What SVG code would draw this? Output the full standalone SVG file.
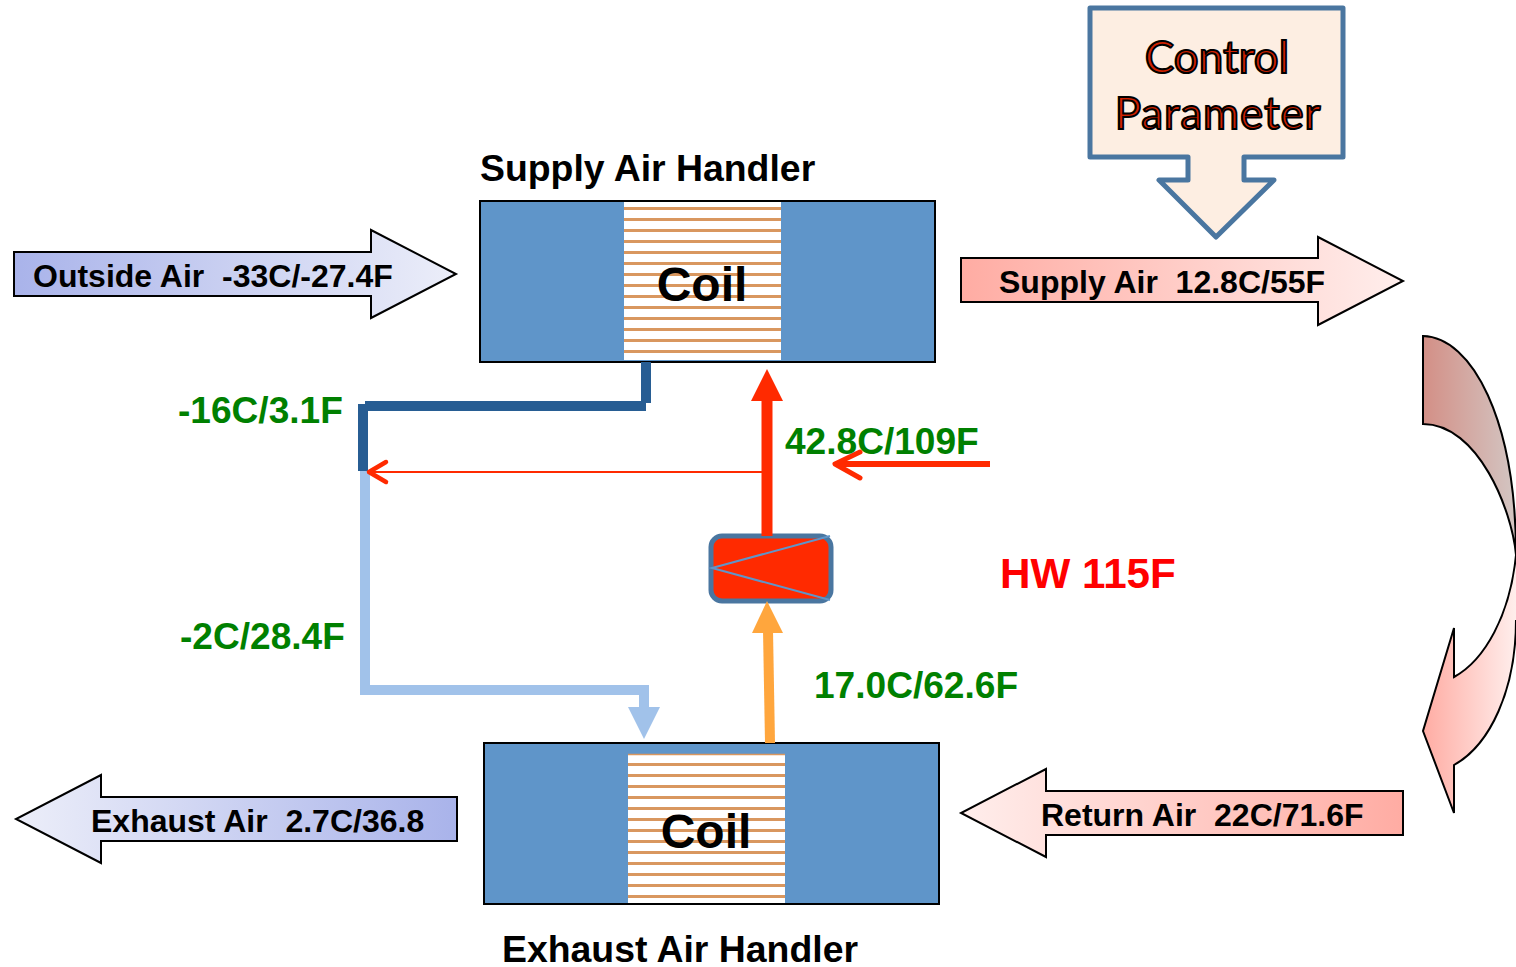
<svg xmlns="http://www.w3.org/2000/svg" width="1516" height="967" viewBox="0 0 1516 967">
<style>
text{font-family:"Liberation Sans",Arial,sans-serif;font-weight:bold;white-space:pre}
.grn{fill:#008000;font-size:37.100px}
.lbl{font-size:32px;fill:#000}
.hd{font-size:37.400px;fill:#000}
.coilt{font-size:48px;fill:#000}
.box{fill:#5f95c9;stroke:#000;stroke-width:2}
.fin{stroke:#d9975f;stroke-width:3}
.arr{stroke:#000;stroke-width:2}
.ctl{font-family:Lato,"Open Sans",sans-serif;font-weight:normal;font-size:44px;fill:#d02000;stroke:#000;stroke-width:2;text-anchor:middle}
</style>
<defs>
<linearGradient id="gB" x1="0" x2="1" y1="0" y2="0"><stop offset="0" stop-color="#a9b3ea"/><stop offset="1" stop-color="#eceef9"/></linearGradient>
<linearGradient id="gBr" x1="1" x2="0" y1="0" y2="0"><stop offset="0" stop-color="#a9b3ea"/><stop offset="1" stop-color="#eceef9"/></linearGradient>
<linearGradient id="gR" x1="0" x2="1" y1="0" y2="0"><stop offset="0" stop-color="#ffaca3"/><stop offset="1" stop-color="#ffeeec"/></linearGradient>
<linearGradient id="gRr" x1="1" x2="0" y1="0" y2="0"><stop offset="0" stop-color="#ffaca3"/><stop offset="1" stop-color="#ffeeec"/></linearGradient>
<linearGradient id="gC1" x1="0" x2="1" y1="0" y2="0"><stop offset="0" stop-color="#d38f86"/><stop offset="1" stop-color="#d3c6c3"/></linearGradient>
<linearGradient id="gC2" x1="0" x2="1" y1="0" y2="0"><stop offset="0" stop-color="#ffaca3"/><stop offset="1" stop-color="#ffeeec"/></linearGradient>
<path id="fins" class="fin" d="M0 0H157M0 11H157M0 22H157M0 33H157M0 44H157M0 55H157M0 66H157M0 77H157M0 88H157M0 99H157M0 110H157M0 121H157M0 132H157"/>
</defs>

<g id="supply-handler">
<rect class="box" x="480" y="201" width="455" height="161"/>
<rect x="624" y="202" width="157" height="158" fill="#fff"/>
<use href="#fins" x="624" y="208.500"/>
<path class="fin" d="M624 351.500H781"/>
<text class="coilt" x="702" y="301" text-anchor="middle">Coil</text>
<text class="hd" x="480" y="181">Supply Air Handler</text>
</g>

<g id="exhaust-handler">
<rect class="box" x="484" y="743" width="455" height="161"/>
<rect x="628" y="754" width="157" height="149" fill="#fff"/>
<path d="M628 754.500H785" stroke="#d9975f" stroke-width="1.500"/>
<use href="#fins" x="628" y="764.500"/>
<text class="coilt" x="706" y="848" text-anchor="middle">Coil</text>
<text class="hd" x="502" y="962">Exhaust Air Handler</text>
</g>

<g id="outside-air">
<path class="arr" fill="url(#gB)" d="M14 252H371V230L456 274L371 318V296H14Z"/>
<text class="lbl" x="33" y="287">Outside Air  -33C/-27.4F</text>
</g>
<g id="supply-air">
<path class="arr" fill="url(#gR)" d="M961 258H1318V237L1403 281L1318 325V302H961Z"/>
<text class="lbl" x="999" y="293">Supply Air  12.8C/55F</text>
</g>
<g id="return-air">
<path class="arr" fill="url(#gRr)" d="M1403 791H1046V769L961 813L1046 857V835H1403Z"/>
<text class="lbl" x="1041" y="826">Return Air  22C/71.6F</text>
</g>
<g id="exhaust-air">
<path class="arr" fill="url(#gBr)" d="M457 797H101V775L16 819L101 863V841H457Z"/>
<text class="lbl" x="91" y="832">Exhaust Air  2.7C/36.8</text>
</g>

<g id="control-parameter">
<path fill="#fdeee2" stroke="#4a76a0" stroke-width="5" stroke-linejoin="round" d="M1090 8H1343V157H1244V180H1274L1216 237L1159 180H1188V157H1090Z"/>
<text class="ctl" x="1217" y="73">Control</text>
<text class="ctl" x="1218" y="129" letter-spacing="0.800">Parameter</text>
</g>

<g id="recirculation-arrow">
<path fill="url(#gC1)" stroke="#000" stroke-width="2" d="M1423 336C1472 337 1516 420 1516 555C1512 510 1478 424 1423 424Z"/>
<path fill="url(#gC2)" stroke="#000" stroke-width="2" d="M1516 555C1510 615 1485 660 1454 677V628L1423 731L1454 813V765C1490 745 1516 690 1516 620"/>
</g>

<g id="heater">
<rect x="711" y="536" width="120" height="65" rx="11" fill="#ff2a00" stroke="#4a76a0" stroke-width="5"/>
<path d="M830 536L712 568L830 600" fill="none" stroke="#5f95c9" stroke-width="2"/>
</g>

<g id="connectors">
<path d="M365 406H646M646 362V403M363 404V471" fill="none" stroke="#275d93" stroke-width="10"/>
<path d="M365 471V690H644M644 685V708" fill="none" stroke="#a1c2ea" stroke-width="10"/>
<path d="M628 707H660L644 739Z" fill="#a1c2ea"/>
<path d="M767 536V400" stroke="#ff2a00" stroke-width="11" fill="none"/>
<path d="M767 369L783 401H751Z" fill="#ff2a00"/>
<path d="M770 743L768 630" stroke="#ffa63d" stroke-width="10" fill="none"/>
<path d="M767 601L783 633H752Z" fill="#ffa63d"/>
<path d="M763 472H368" stroke="#ff2a00" stroke-width="2" fill="none"/>
<path d="M386 462L369 472L386 482" stroke="#ff2a00" stroke-width="4.500" stroke-linecap="round" stroke-linejoin="round" fill="none"/>
<path d="M990 464H836" stroke="#ff2a00" stroke-width="6" fill="none"/>
<path d="M860 452L835 464L860 478" stroke="#ff2a00" stroke-width="5" stroke-linecap="round" stroke-linejoin="round" fill="none"/>
</g>

<g id="labels">
<text class="grn" x="178" y="423">-16C/3.1F</text>
<text class="grn" x="180" y="649">-2C/28.4F</text>
<text class="grn" x="785" y="454">42.8C/109F</text>
<text class="grn" x="814" y="698">17.0C/62.6F</text>
<text x="1000" y="588" fill="#f00" font-size="42.200">HW 115F</text>
</g>
</svg>
